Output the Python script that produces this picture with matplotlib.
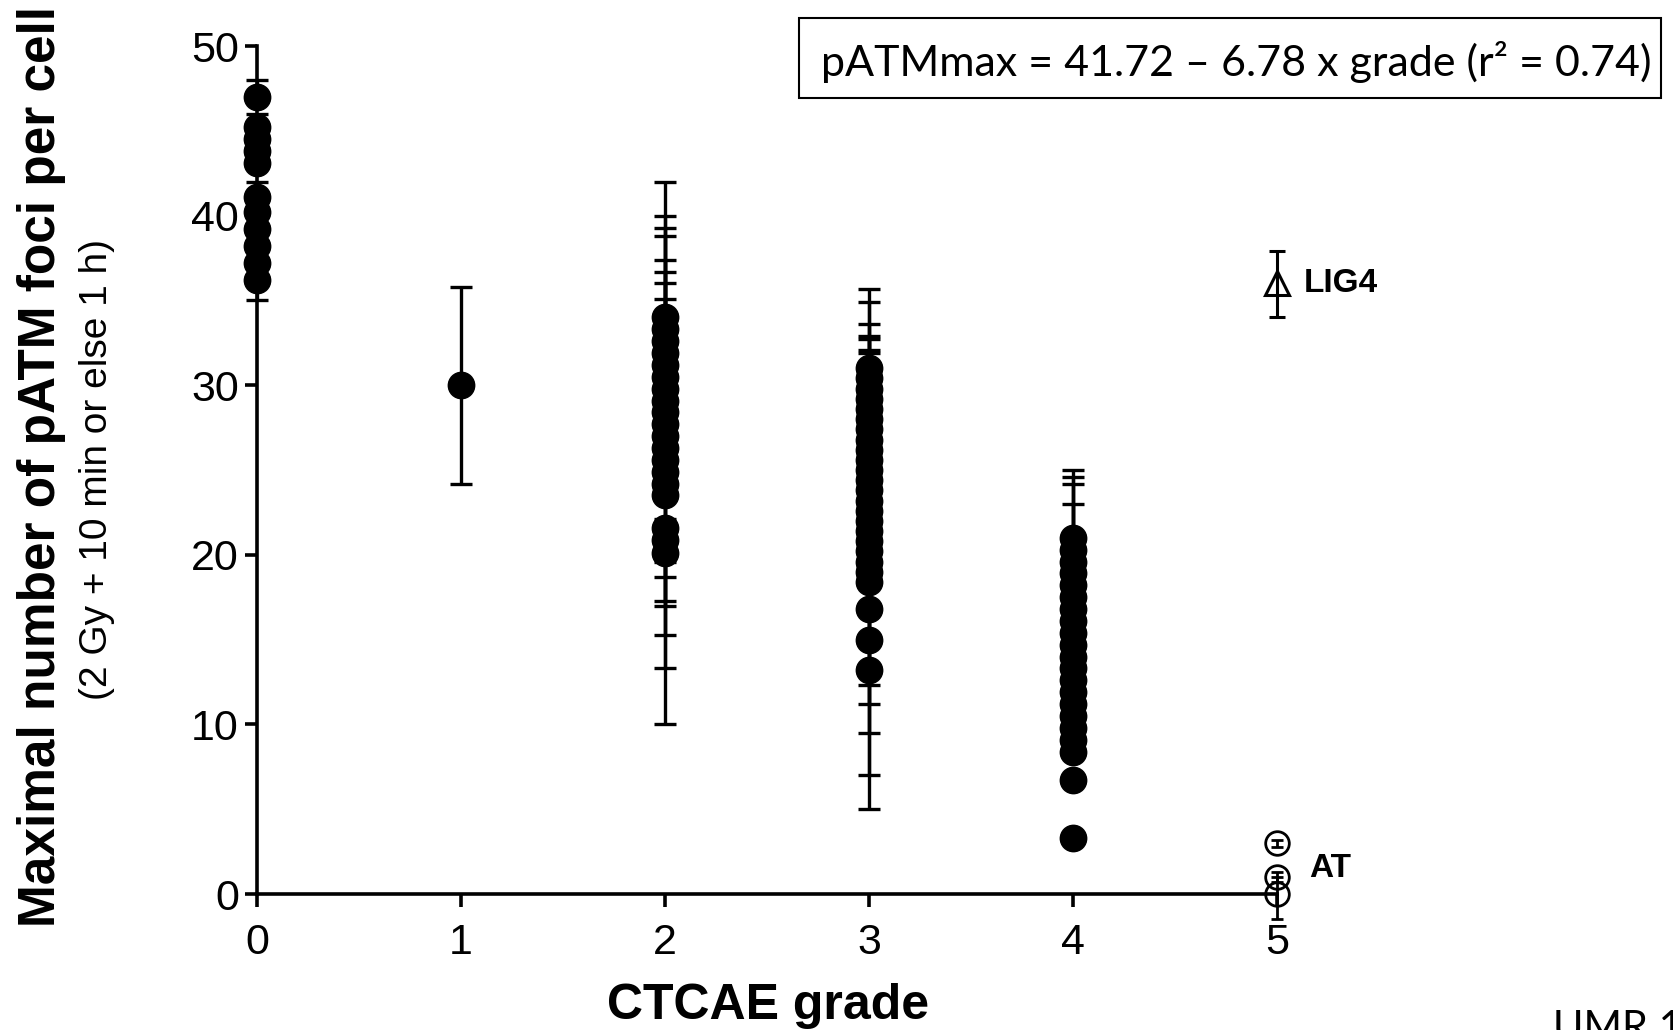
import matplotlib
matplotlib.use("Agg")
import matplotlib.pyplot as plt
from matplotlib.patches import Rectangle

plt.rcParams['font.family'] = ['Liberation Sans', 'DejaVu Sans']

# maximal pATM foci per cell, one entry per patient, with error-bar ends
g0_vals = [47.0, 45.2, 44.5, 43.8, 43.1, 41.1, 40.2, 39.2, 38.2, 37.2, 36.2]
g0_top = [48.0, 46.0, 44.8, 44.1, 43.4, 42.0, 40.5, 39.5, 38.5, 37.5, 36.5]
g0_bot = [46.7, 44.9, 44.2, 43.5, 42.8, 40.8, 39.9, 38.9, 37.9, 36.9, 35.0]

g1_vals = [30.0]
g1_top = [35.8]
g1_bot = [24.2]

g2_vals = [34.0, 33.3, 32.6, 31.9, 31.2, 30.5, 29.8, 29.1, 28.4, 27.7,
           27.0, 26.3, 25.6, 24.9, 24.2, 23.5, 21.6, 20.9, 20.1]
g2_top = [35.1, 36.0, 36.7, 32.4, 37.4, 31.0, 38.8, 29.6, 39.3, 28.2,
          42.0, 26.8, 40.0, 25.4, 24.7, 24.0, 22.1, 21.4, 20.6]
g2_bot = [33.5, 32.8, 32.1, 31.4, 30.7, 30.0, 29.3, 28.6, 27.9, 27.2,
          10.0, 25.8, 13.3, 24.4, 15.3, 17.0, 17.3, 18.7, 19.6]

g3_vals = [31.0, 30.4, 29.8, 29.2, 28.6, 28.0, 27.4, 26.8, 26.2, 25.6,
           25.0, 24.4, 23.8, 23.2, 22.6, 22.0, 21.4, 20.8, 20.2, 19.6,
           19.0, 18.4, 16.8, 15.0, 13.2]
g3_top = [35.7, 34.9, 33.6, 32.9, 32.7, 32.1, 31.9, 27.1, 26.5, 25.9,
          25.3, 24.7, 24.1, 23.5, 22.9, 22.3, 21.7, 21.1, 20.5, 19.9,
          19.3, 18.7, 17.1, 15.3, 13.5]
g3_bot = [30.7, 30.1, 29.5, 28.9, 28.3, 27.7, 27.1, 26.5, 25.9, 5.0,
          24.7, 7.0, 23.5, 22.9, 9.5, 21.7, 21.1, 11.2, 19.9, 19.3,
          18.7, 12.3, 16.5, 14.7, 12.9]

g4_vals = [21.0, 20.3, 19.6, 18.9, 18.2, 17.5, 16.8, 16.1, 15.4, 14.7,
           14.0, 13.3, 12.6, 11.9, 11.2, 10.5, 9.8, 9.1, 8.4, 6.7, 3.3]
g4_top = [21.3, 23.0, 19.9, 24.2, 18.5, 24.6, 17.1, 25.0, 15.7, 15.0,
          14.3, 13.6, 12.9, 12.2, 11.5, 10.8, 10.1, 9.4, 8.7, 7.0, 3.6]
g4_bot = [20.7, 20.0, 19.3, 18.6, 17.9, 17.2, 16.5, 15.8, 15.1, 14.4,
          13.7, 13.0, 12.3, 11.6, 10.9, 10.2, 9.5, 8.8, 8.1, 6.4, 3.0]

lig4_vals = [36.0]
lig4_top = [37.9]
lig4_bot = [34.0]

at_vals = [3.0, 1.0, 0.0]
at_top = [3.2, 1.3, 1.0]
at_bot = [2.8, 0.7, -1.5]

grades = [0, 1, 2, 3, 4]
groups = [(g0_vals, g0_top, g0_bot), (g1_vals, g1_top, g1_bot),
          (g2_vals, g2_top, g2_bot), (g3_vals, g3_top, g3_bot),
          (g4_vals, g4_top, g4_bot)]

fig = plt.figure(figsize=(16.73, 10.30), dpi=100)
ax = fig.add_axes([0.1536, 0.132, 0.6097, 0.8233])

for g, (vals, top, bot) in zip(grades, groups):
    lo = [v - b for v, b in zip(vals, bot)]
    hi = [t - v for v, t in zip(vals, top)]
    ax.errorbar([g] * len(vals), vals, yerr=[lo, hi], fmt='none',
                ecolor='black', elinewidth=2.4, capsize=8, capthick=2.4,
                clip_on=False, zorder=2)
    ax.plot([g] * len(vals), vals, 'o', color='black', ms=19,
            clip_on=False, zorder=3)

# LIG4 patient
ax.errorbar([5], lig4_vals,
            yerr=[[lig4_vals[0] - lig4_bot[0]], [lig4_top[0] - lig4_vals[0]]],
            fmt='^', mfc='none', mec='black', mew=2.2, ms=17,
            ecolor='black', elinewidth=2.2, capsize=6, capthick=2.2,
            clip_on=False, zorder=3)
# AT patients
ax.errorbar([5] * 3, at_vals,
            yerr=[[v - b for v, b in zip(at_vals, at_bot)],
                  [t - v for v, t in zip(at_vals, at_top)]],
            fmt='o', mfc='none', mec='black', mew=2.0, ms=17,
            ecolor='black', elinewidth=2.0, capsize=4, capthick=2.0,
            clip_on=False, zorder=3)

ax.text(5.13, lig4_vals[0], 'LIG4', fontsize=24, fontweight='bold',
        va='center', ha='left')
ax.text(5.16, 1.5, 'AT', fontsize=24, fontweight='bold',
        va='center', ha='left')

ax.set_xlim(0, 5)
ax.set_ylim(0, 50)
ax.set_xticks([0, 1, 2, 3, 4, 5])
ax.set_yticks([0, 10, 20, 30, 40, 50])
for s in ['top', 'right']:
    ax.spines[s].set_visible(False)
for s in ['left', 'bottom']:
    ax.spines[s].set_linewidth(2.6)
ax.tick_params(length=9, width=2.6, labelsize=31, pad=4)
ax.tick_params(axis='x', pad=12)

fig.text(0.459, 0.0107, 'CTCAE grade', fontsize=36, fontweight='bold',
         ha='center', va='baseline')
fig.text(0.025, 0.547, 'Maximal number of pATM foci per cell', fontsize=37,
         fontweight='bold', rotation=90, ha='center', va='center')
fig.text(0.058, 0.544, '(2 Gy + 10 min or else 1 h)', fontsize=28,
         rotation=90, ha='center', va='center')

fig.patches.append(Rectangle((0.4776, 0.9049), 0.5152, 0.0777,
                             transform=fig.transFigure, fill=False,
                             edgecolor='black', lw=1.5))
fig.text(0.739, 0.940, 'pATMmax = 41.72 \u2013 6.78 x grade (r\u00b2 = 0.74)',
         fontsize=31, family=['Lato', 'DejaVu Sans'], ha='center', va='center')

fig.text(0.928, 0.019, 'UMR 11', fontsize=30, family=['Lato', 'DejaVu Sans'],
         ha='left', va='top')

fig.savefig('out.png', dpi=100, facecolor='white')
